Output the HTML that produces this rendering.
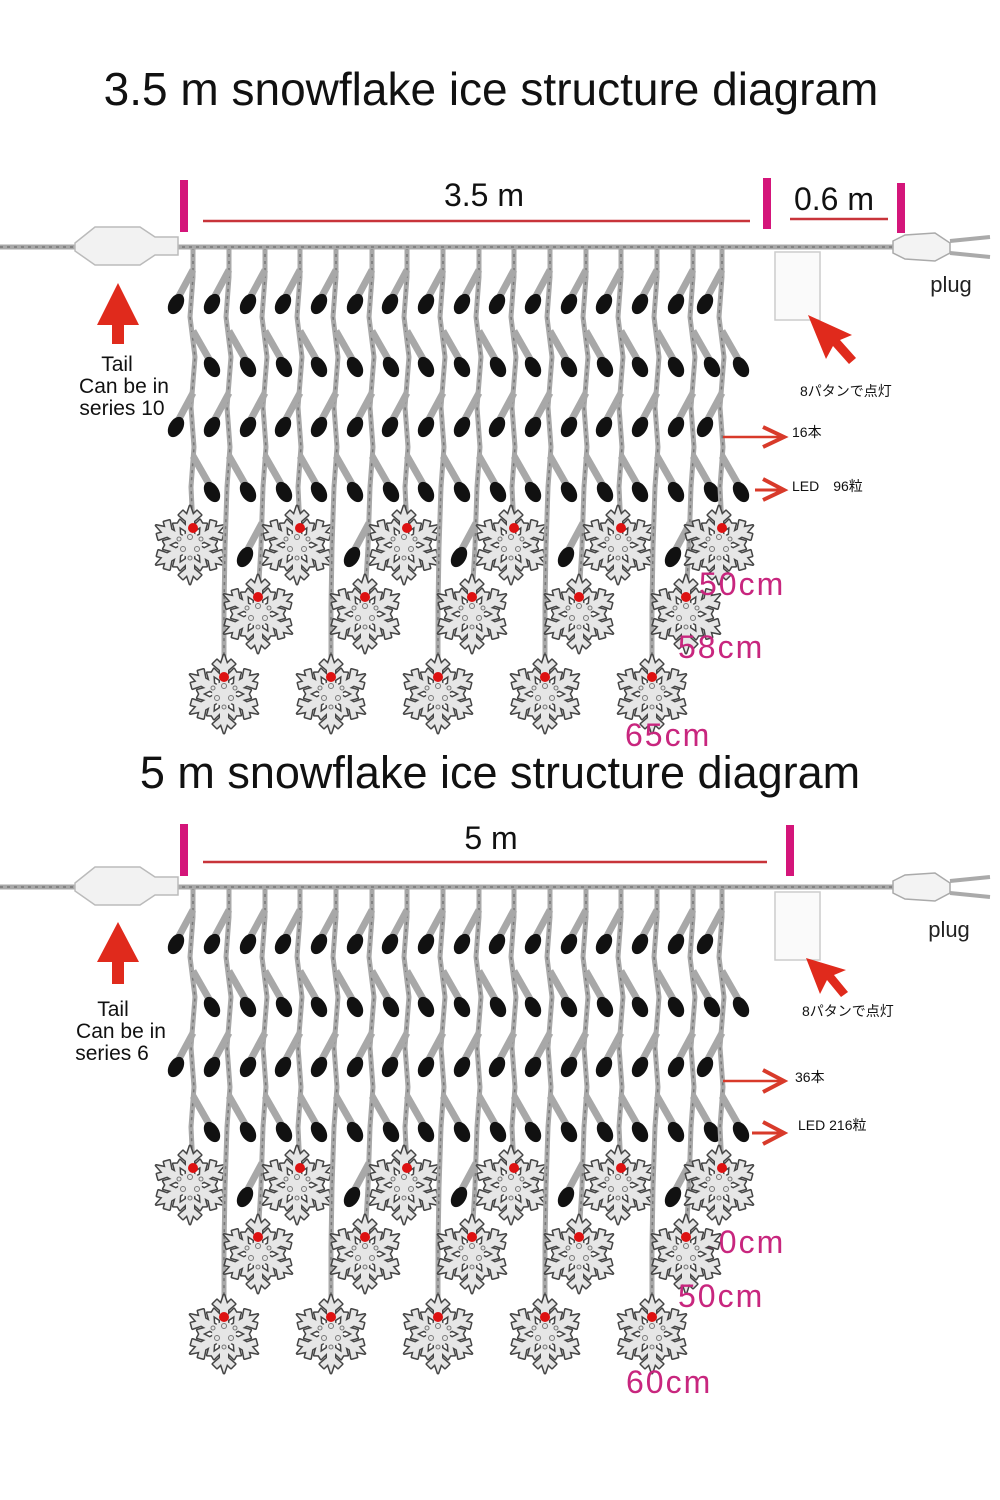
<!DOCTYPE html>
<html><head><meta charset="utf-8"><style>
html,body{margin:0;padding:0;background:#fff;}
svg{display:block;}
text{font-family:"Liberation Sans","Noto Sans CJK JP",sans-serif;}
</style></head><body>
<svg width="1000" height="1500" viewBox="0 0 1000 1500" xmlns="http://www.w3.org/2000/svg" xmlns:xlink="http://www.w3.org/1999/xlink">
<defs>
<g id="arm"><polygon points="-4,0 -4,-14 -13,-20 -10,-25 -4,-19 -4,-24 -11,-30 -7,-34 -3,-30 0,-39 3,-30 7,-34 11,-30 4,-24 4,-19 10,-25 13,-20 4,-14 4,0"/></g>
<g id="flk">
 <g fill="#555" stroke="#444" stroke-width="3" stroke-linejoin="round">
  <use xlink:href="#arm"/><use xlink:href="#arm" transform="rotate(60)"/><use xlink:href="#arm" transform="rotate(120)"/><use xlink:href="#arm" transform="rotate(180)"/><use xlink:href="#arm" transform="rotate(240)"/><use xlink:href="#arm" transform="rotate(300)"/>
 </g>
 <g fill="#e6e6e6">
  <use xlink:href="#arm"/><use xlink:href="#arm" transform="rotate(60)"/><use xlink:href="#arm" transform="rotate(120)"/><use xlink:href="#arm" transform="rotate(180)"/><use xlink:href="#arm" transform="rotate(240)"/><use xlink:href="#arm" transform="rotate(300)"/>
  <circle r="12"/>
 </g>
 <g fill="none" stroke="#777" stroke-width="1"><circle cx="0" cy="-8" r="2.5"/><circle cx="7" cy="4" r="2.5"/><circle cx="-7" cy="4" r="2.5"/><circle cx="0" cy="13" r="2"/><circle cx="11" cy="-6" r="2"/><circle cx="-11" cy="-6" r="2"/></g>
</g>
<g id="bl"><path d="M0,-34 L-14,-8" stroke="#a8a8a8" stroke-width="7" fill="none"/><ellipse cx="-17" cy="0" rx="7" ry="11" fill="#111" transform="rotate(30 -17 0)"/></g>
<g id="br"><path d="M0,-36 L16,-8" stroke="#a8a8a8" stroke-width="7" fill="none"/><ellipse cx="19" cy="0" rx="7" ry="11" fill="#111" transform="rotate(-30 19 0)"/></g>
<g id="sA">
 <path d="M0,0 L0,30 L-3,70 L2,110 L-2,160 L1,200 L-2,240 L0,281" stroke="#a8a8a8" stroke-width="5" fill="none"/>
 <path d="M0,0 L0,30 L-3,70 L2,110 L-2,160 L1,200 L-2,240 L0,281" stroke="#777" stroke-width="1.5" stroke-dasharray="3 4" fill="none"/>
 <use xlink:href="#bl" y="57"/><use xlink:href="#br" y="120"/><use xlink:href="#bl" y="180"/><use xlink:href="#br" y="245"/>
 <use xlink:href="#flk" x="-3" y="298"/><circle cx="0" cy="281" r="5" fill="#d11"/>
</g>
<g id="sB">
 <path d="M0,0 L0,30 L-3,70 L2,110 L-2,160 L1,200 L-2,240 L-4,300 L-7,350" stroke="#a8a8a8" stroke-width="5" fill="none"/>
 <path d="M0,0 L0,30 L-3,70 L2,110 L-2,160 L1,200 L-2,240 L-4,300 L-7,350" stroke="#777" stroke-width="1.5" stroke-dasharray="3 4" fill="none"/>
 <use xlink:href="#bl" y="57"/><use xlink:href="#br" y="120"/><use xlink:href="#bl" y="180"/><use xlink:href="#br" y="245"/><use xlink:href="#bl" x="-3" y="310"/>
 <use xlink:href="#flk" x="-7" y="367"/><circle cx="-7" cy="350" r="5" fill="#d11"/>
</g>
<g id="sC">
 <path d="M0,0 L0,30 L-3,70 L2,110 L-2,160 L1,200 L-2,240 L-4,300 L-5,360 L-5,430" stroke="#a8a8a8" stroke-width="5" fill="none"/>
 <path d="M0,0 L0,30 L-3,70 L2,110 L-2,160 L1,200 L-2,240 L-4,300 L-5,360 L-5,430" stroke="#777" stroke-width="1.5" stroke-dasharray="3 4" fill="none"/>
 <use xlink:href="#bl" y="57"/><use xlink:href="#br" y="120"/><use xlink:href="#bl" y="180"/><use xlink:href="#br" y="245"/>
 <use xlink:href="#flk" x="-5" y="447"/><circle cx="-5" cy="430" r="5" fill="#d11"/>
</g>
<g id="curtain">
 <use xlink:href="#sA" x="193"/><use xlink:href="#sC" x="229"/><use xlink:href="#sB" x="265"/>
 <use xlink:href="#sA" x="300"/><use xlink:href="#sC" x="336"/><use xlink:href="#sB" x="372"/>
 <use xlink:href="#sA" x="407"/><use xlink:href="#sC" x="443"/><use xlink:href="#sB" x="479"/>
 <use xlink:href="#sA" x="514"/><use xlink:href="#sC" x="550"/><use xlink:href="#sB" x="586"/>
 <use xlink:href="#sA" x="621"/><use xlink:href="#sC" x="657"/><use xlink:href="#sB" x="693"/>
 <use xlink:href="#sA" x="722"/>
 <path d="M0,0 L895,0" stroke="#a8a8a8" stroke-width="5"/>
 <path d="M0,0 L895,0" stroke="#777" stroke-width="1.5" stroke-dasharray="3 4"/>
 <path d="M75,-4 L95,-20 L140,-20 L155,-10 L178,-10 L178,8 L155,8 L140,18 L95,18 L75,4 Z" fill="#f2f2f2" stroke="#bbb" stroke-width="1.5"/>
 <rect x="775" y="5" width="45" height="68" fill="#fafafa" stroke="#ccc" stroke-width="1.5"/>
 <path d="M893,-6 L905,-12 L935,-14 L950,-4 L950,6 L935,14 L905,12 L893,6 Z" fill="#f3f3f3" stroke="#aaa" stroke-width="1.5"/>
 <path d="M950,-6 L990,-10 M950,6 L990,10" stroke="#aaa" stroke-width="4" fill="none"/>
</g>
</defs>

<!-- TOP DIAGRAM -->
<text x="491" y="105" font-size="46" text-anchor="middle" fill="#111">3.5 m snowflake ice structure diagram</text>
<rect x="180" y="180" width="8" height="52" fill="#d4157a"/>
<rect x="763" y="178" width="8" height="51" fill="#d4157a"/>
<rect x="897" y="183" width="8" height="50" fill="#d4157a"/>
<line x1="203" y1="221" x2="750" y2="221" stroke="#c8343a" stroke-width="2.5"/>
<line x1="790" y1="219" x2="888" y2="219" stroke="#c8343a" stroke-width="2.5"/>
<text x="484" y="206" font-size="32" text-anchor="middle" fill="#111">3.5 m</text>
<text x="834" y="210" font-size="32" text-anchor="middle" fill="#111">0.6 m</text>
<use xlink:href="#curtain" y="247"/>
<polygon points="118,283 97,325 112,325 112,344 124,344 124,325 139,325" fill="#e02a1c"/>
<text x="117" y="371" font-size="21" text-anchor="middle" fill="#111">Tail</text>
<text x="124" y="393" font-size="21" text-anchor="middle" fill="#111">Can be in</text>
<text x="122" y="415" font-size="21" text-anchor="middle" fill="#111">series 10</text>
<text x="951" y="292" font-size="22" text-anchor="middle" fill="#222">plug</text>
<polygon points="808,315 852,335 840,340 856,358 849,364 833,346 826,359" fill="#e02a1c"/>
<text x="800" y="396" font-size="14" fill="#111">8パタンで点灯</text>
<line x1="723" y1="437" x2="780" y2="437" stroke="#d83a2a" stroke-width="2.5"/>
<polyline points="763,427 784,437 763,447" fill="none" stroke="#d83a2a" stroke-width="4"/>
<text x="792" y="437" font-size="14" fill="#111">16本</text>
<line x1="755" y1="490" x2="780" y2="490" stroke="#d83a2a" stroke-width="3"/>
<polyline points="763,479 784,490 763,500" fill="none" stroke="#d83a2a" stroke-width="4"/>
<text x="792" y="491" font-size="14" fill="#111">LED　96粒</text>
<text x="699" y="595" font-size="32" fill="#c8267e" letter-spacing="2">50cm</text>
<text x="678" y="658" font-size="32" fill="#c8267e" letter-spacing="2">58cm</text>
<text x="625" y="746" font-size="32" fill="#c8267e" letter-spacing="2">65cm</text>

<!-- BOTTOM DIAGRAM -->
<text x="500" y="788" font-size="45" text-anchor="middle" fill="#111">5 m snowflake ice structure diagram</text>
<rect x="180" y="824" width="8" height="52" fill="#d4157a"/>
<rect x="786" y="825" width="8" height="51" fill="#d4157a"/>
<line x1="203" y1="862" x2="767" y2="862" stroke="#c8343a" stroke-width="2.5"/>
<text x="491" y="849" font-size="32" text-anchor="middle" fill="#111">5 m</text>
<text x="699" y="1253" font-size="32" fill="#c8267e" letter-spacing="2">40cm</text>
<use xlink:href="#curtain" y="887"/>
<polygon points="118,922 97,962 112,962 112,984 124,984 124,962 139,962" fill="#e02a1c"/>
<text x="113" y="1016" font-size="21" text-anchor="middle" fill="#111">Tail</text>
<text x="121" y="1038" font-size="21" text-anchor="middle" fill="#111">Can be in</text>
<text x="112" y="1060" font-size="21" text-anchor="middle" fill="#111">series 6</text>
<text x="949" y="937" font-size="22" text-anchor="middle" fill="#222">plug</text>
<polygon points="806,958 846,970 834,975 848,992 841,997 827,980 820,994" fill="#e02a1c"/>
<text x="802" y="1016" font-size="14" fill="#111">8パタンで点灯</text>
<line x1="723" y1="1081" x2="780" y2="1081" stroke="#d83a2a" stroke-width="2.5"/>
<polyline points="763,1070 784,1081 763,1092" fill="none" stroke="#d83a2a" stroke-width="4"/>
<text x="795" y="1082" font-size="14" fill="#111">36本</text>
<line x1="752" y1="1133" x2="780" y2="1133" stroke="#d83a2a" stroke-width="3"/>
<polyline points="763,1122 784,1133 763,1144" fill="none" stroke="#d83a2a" stroke-width="4"/>
<text x="798" y="1130" font-size="14" fill="#111">LED 216粒</text>
<text x="678" y="1307" font-size="32" fill="#c8267e" letter-spacing="2">50cm</text>
<text x="626" y="1393" font-size="32" fill="#c8267e" letter-spacing="2">60cm</text>
</svg>
</body></html>
